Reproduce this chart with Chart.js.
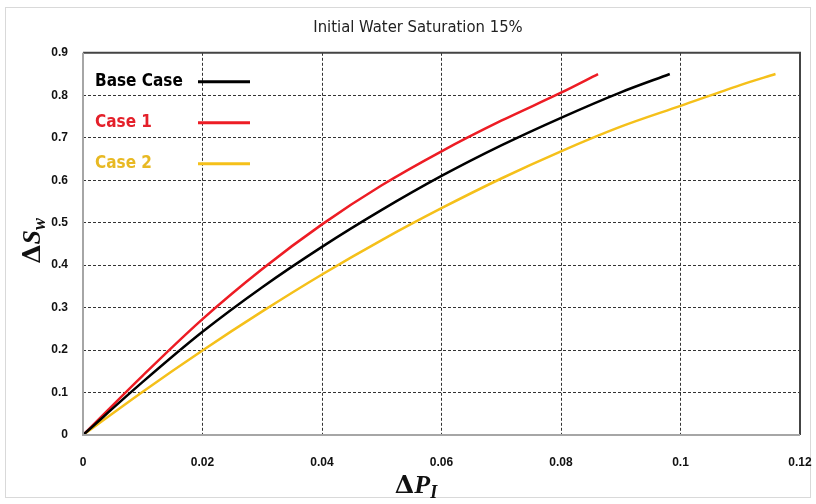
<!DOCTYPE html>
<html lang="en">
<head>
    <meta charset="UTF-8">
    <title>Initial Water Saturation 15%</title>
    <script src="https://cdn.jsdelivr.net/npm/chart.js"></script>
    <style>
        body { margin: 0; background: #fff; }
        .wrap { width: 816px; height: 504px; }
    </style>
</head>
<body>
    <div class="wrap">
        <canvas id="myChart" width="816" height="504"></canvas>
    </div>

    <script>
        // Series (x = ΔP_I, y = ΔS_w)
        const seriesNames = ['Base Case', 'Case 1', 'Case 2'];
        const baseX = [0, 0.01, 0.02, 0.03, 0.04, 0.05, 0.06, 0.07, 0.08, 0.09, 0.0982];
        const baseY = [0, 0.125, 0.243, 0.348, 0.443, 0.530, 0.610, 0.682, 0.747, 0.807, 0.85];
        const case1X = [0, 0.01, 0.02, 0.03, 0.04, 0.05, 0.06, 0.07, 0.08, 0.0862];
        const case1Y = [0, 0.14, 0.273, 0.391, 0.496, 0.588, 0.668, 0.740, 0.806, 0.85];
        const case2X = [0, 0.01, 0.02, 0.03, 0.04, 0.05, 0.06, 0.07, 0.08, 0.09, 0.10, 0.11, 0.1159];
        const case2Y = [0, 0.102, 0.199, 0.291, 0.378, 0.459, 0.534, 0.604, 0.668, 0.726, 0.775, 0.824, 0.85];
        const xTicks = [0, 0.02, 0.04, 0.06, 0.08, 0.1, 0.12];
        const yTicks = [0, 0.1, 0.2, 0.3, 0.4, 0.5, 0.6, 0.7, 0.8, 0.9];

        const lineColors = ['#000000', '#ED1C24', '#F5C01A'];
        const textColors = ['#000000', '#E4202A', '#E8B923'];

        function toPoints(xs, ys) {
            return xs.map((x, i) => ({ x: x, y: ys[i] }));
        }

        // draws one formula-like title: Δ + italic letter + italic subscript
        function drawSymbol(c, letter, sub, cx, baseline) {
            const parts = [
                { t: 'Δ', f: 'bold 25px "DejaVu Serif", serif', dy: 0 },
                { t: letter, f: 'bold italic 26px "Liberation Serif", serif', dy: 0 },
                { t: sub, f: 'bold italic 18px "Liberation Serif", serif', dy: 5 }
            ];
            let w = 0;
            parts.forEach(p => { c.font = p.f; w += c.measureText(p.t).width; });
            let x = cx - w / 2;
            parts.forEach(p => {
                c.font = p.f;
                c.fillText(p.t, x, baseline + p.dy);
                x += c.measureText(p.t).width;
            });
        }

        // frame, plot border, legend and axis titles
        const decorations = {
            id: 'decorations',
            beforeDraw(chart) {
                const c = chart.ctx;
                c.save();
                c.strokeStyle = '#d9d9d9';
                c.lineWidth = 1;
                c.strokeRect(5.5, 7.5, 805, 490);
                c.restore();
            },
            afterDatasetsDraw(chart) {
                const c = chart.ctx;
                const a = chart.chartArea;
                c.save();
                // plot border
                c.lineWidth = 2;
                c.strokeStyle = '#444';
                c.beginPath();
                c.moveTo(a.left, a.top);
                c.lineTo(a.right, a.top);
                c.lineTo(a.right, a.bottom);
                c.stroke();
                c.strokeStyle = '#a6a6a6';
                c.beginPath();
                c.moveTo(a.left, a.top);
                c.lineTo(a.left, a.bottom);
                c.lineTo(a.right, a.bottom);
                c.stroke();

                // legend
                c.font = 'bold 17px "DejaVu Sans Condensed", "DejaVu Sans", sans-serif';
                c.textBaseline = 'middle';
                chart.data.datasets.forEach((ds, i) => {
                    const y = a.top + 29 + i * 41;
                    c.fillStyle = textColors[i];
                    c.fillText(ds.label, a.left + 12, y);
                    c.strokeStyle = ds.borderColor;
                    c.lineWidth = 3;
                    c.beginPath();
                    c.moveTo(a.left + 115, y);
                    c.lineTo(a.left + 167, y);
                    c.stroke();
                });

                // axis titles
                c.fillStyle = '#111';
                c.textBaseline = 'alphabetic';
                c.textAlign = 'left';
                c.translate(40, (a.top + a.bottom) / 2 - 3);
                c.rotate(-Math.PI / 2);
                drawSymbol(c, 'S', 'w', 0, 0);
                c.setTransform(1, 0, 0, 1, 0, 0);
                drawSymbol(c, 'P', 'I', 416, 493);
                c.restore();
            }
        };

        const ctx = document.getElementById('myChart').getContext('2d');
        const chart = new Chart(ctx, {
            type: 'line',
            data: {
                datasets: [
                    { label: seriesNames[0], data: toPoints(baseX, baseY), borderColor: lineColors[0] },
                    { label: seriesNames[1], data: toPoints(case1X, case1Y), borderColor: lineColors[1] },
                    { label: seriesNames[2], data: toPoints(case2X, case2Y), borderColor: lineColors[2] }
                ]
            },
            options: {
                responsive: false,
                animation: false,
                // left padding only moves the title centre; the y axis width makes up for it
                layout: { padding: { left: 36, right: 16, top: 0, bottom: 0 } },
                elements: {
                    point: { radius: 0 },
                    line: { borderWidth: 2.5, cubicInterpolationMode: 'monotone', fill: false }
                },
                plugins: {
                    legend: { display: false },
                    tooltip: { enabled: false },
                    title: {
                        display: true,
                        text: 'Initial Water Saturation 15%',
                        color: '#222',
                        font: { family: '"DejaVu Sans Condensed", "DejaVu Sans", sans-serif', size: 16.5, weight: 'normal' },
                        padding: { top: 18, bottom: 15 }
                    }
                },
                scales: {
                    x: {
                        type: 'linear',
                        min: 0,
                        max: 0.12,
                        afterBuildTicks: s => { s.ticks = xTicks.map(v => ({ value: v })); },
                        afterFit: s => { s.height = 69; s.paddingLeft = 0; s.paddingRight = 0; },
                        grid: { color: '#333', lineWidth: 1, drawTicks: false },
                        border: { display: false, dash: [3, 2] },
                        ticks: {
                            padding: 20,
                            color: '#111',
                            font: { family: '"Liberation Sans", Arial, sans-serif', size: 12, weight: 'bold' },
                            callback: v => String(Number(v.toFixed(2)))
                        }
                    },
                    y: {
                        min: 0,
                        max: 0.9,
                        afterBuildTicks: s => { s.ticks = yTicks.map(v => ({ value: v })); },
                        afterFit: s => { s.width = 47; },
                        grid: { color: '#333', lineWidth: 1, drawTicks: false },
                        border: { display: false, dash: [3, 2] },
                        ticks: {
                            padding: 15,
                            color: '#111',
                            font: { family: '"Liberation Sans", Arial, sans-serif', size: 12, weight: 'bold' },
                            callback: v => String(Number(v.toFixed(1)))
                        }
                    }
                }
            },
            plugins: [decorations]
        });
    </script>
</body>
</html>
